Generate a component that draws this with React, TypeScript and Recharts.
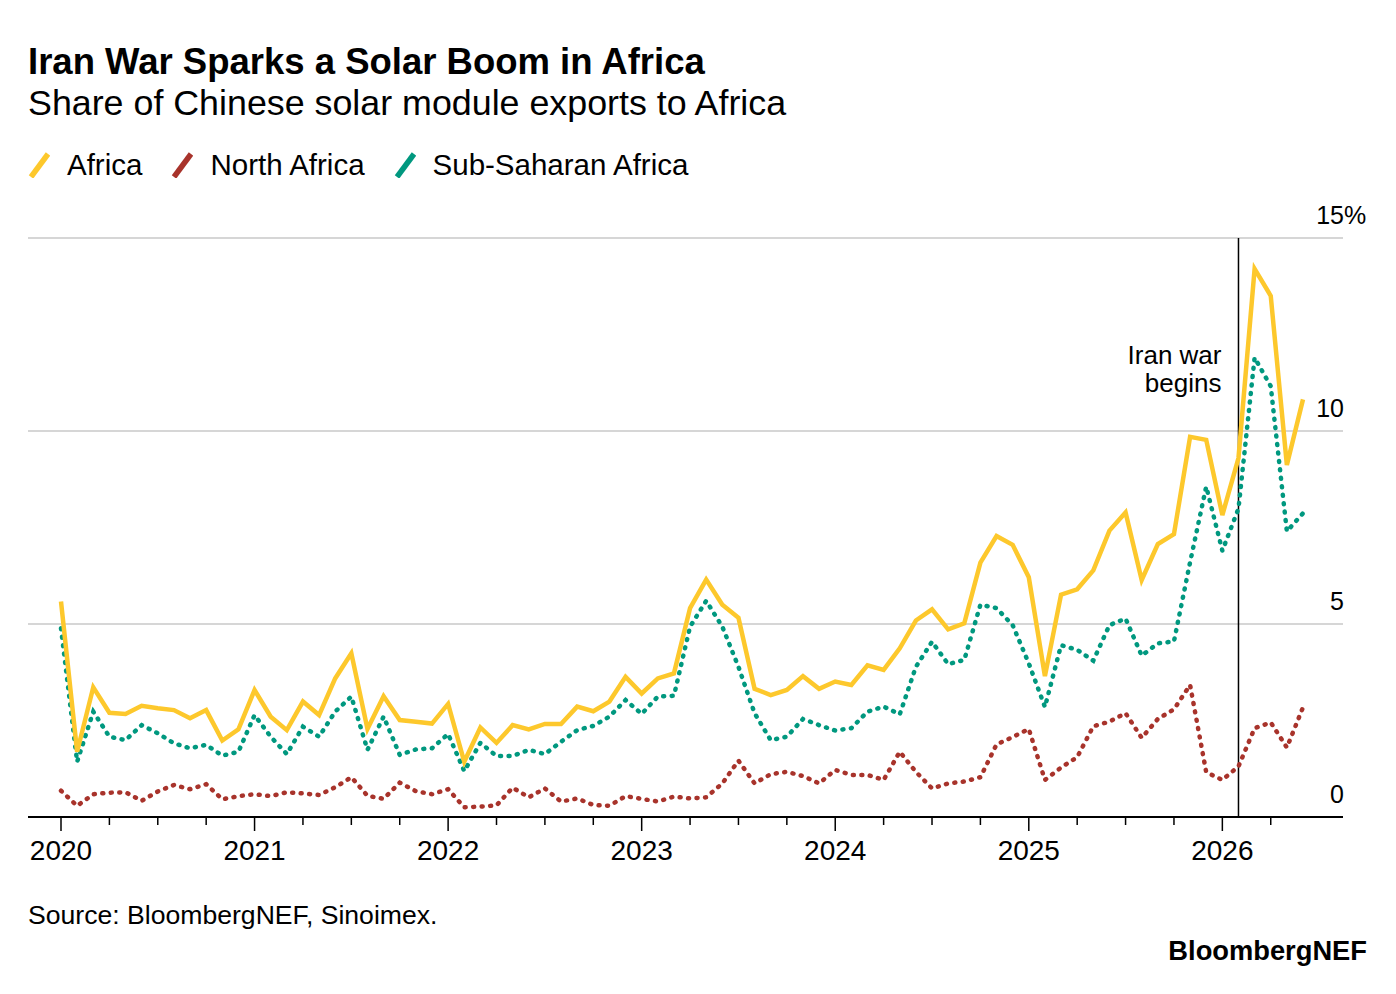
import { LineChart, Line, XAxis, YAxis, CartesianGrid, ReferenceLine } from 'recharts';

const years = ['2020', '2021', '2022', '2023', '2024', '2025', '2026'];
const monthCodes = ['01', '02', '03', '04', '05', '06', '07', '08', '09', '10', '11', '12'];
const months = years.flatMap((y) => monthCodes.map((m) => `${y}-${m}`)).slice(0, 78);

const africa = [
  5.58, 1.69, 3.36, 2.7, 2.67, 2.88, 2.82, 2.77, 2.56, 2.77, 1.98, 2.27,
  3.29, 2.6, 2.25, 2.99, 2.64, 3.59, 4.24, 2.28, 3.13, 2.51, 2.47, 2.42,
  2.93, 1.43, 2.32, 1.92, 2.38, 2.27, 2.41, 2.41, 2.86, 2.74, 2.99, 3.63,
  3.2, 3.59, 3.72, 5.41, 6.15, 5.5, 5.16, 3.32, 3.16, 3.29, 3.65, 3.32,
  3.51, 3.42, 3.93, 3.81, 4.37, 5.09, 5.38, 4.86, 5.02, 6.59, 7.28, 7.05,
  6.21, 3.65, 5.76, 5.9, 6.39, 7.42, 7.89, 6.14, 7.07, 7.33, 9.85, 9.77,
  7.82, 9.3, 14.2, 13.5, 9.12, 10.82,
];

const northAfrica = [
  0.68, 0.29, 0.59, 0.63, 0.64, 0.42, 0.66, 0.83, 0.72, 0.85, 0.46, 0.54,
  0.59, 0.54, 0.64, 0.61, 0.57, 0.77, 1.03, 0.55, 0.47, 0.89, 0.67, 0.59,
  0.72, 0.25, 0.27, 0.3, 0.76, 0.51, 0.74, 0.4, 0.48, 0.31, 0.29, 0.54,
  0.47, 0.4, 0.53, 0.48, 0.51, 0.87, 1.46, 0.87, 1.11, 1.17, 1.06, 0.87,
  1.22, 1.09, 1.09, 0.96, 1.69, 1.17, 0.74, 0.87, 0.92, 1.03, 1.88, 2.07,
  2.28, 0.96, 1.28, 1.55, 2.35, 2.47, 2.69, 2.05, 2.54, 2.79, 3.42, 1.16,
  0.96, 1.31, 2.3, 2.45, 1.8, 2.84,
];

const subSaharan = [
  4.89, 1.43, 2.73, 2.08, 1.99, 2.38, 2.17, 1.91, 1.78, 1.87, 1.59, 1.69,
  2.64, 2.08, 1.63, 2.34, 2.08, 2.73, 3.12, 1.74, 2.6, 1.61, 1.75, 1.78,
  2.15, 1.19, 1.92, 1.58, 1.58, 1.74, 1.63, 1.95, 2.25, 2.36, 2.6, 3.03,
  2.67, 3.12, 3.14, 4.93, 5.6, 4.93, 3.89, 2.69, 1.99, 2.08, 2.54, 2.38,
  2.24, 2.3, 2.73, 2.86, 2.66, 3.89, 4.54, 3.96, 4.07, 5.5, 5.41, 4.97,
  3.98, 2.85, 4.45, 4.33, 4.05, 4.97, 5.14, 4.18, 4.5, 4.55, 6.6, 8.56,
  6.9, 7.99, 11.9, 11.16, 7.4, 7.87,
];

const yTicks = [0, 5, 10, 15];
const warStart = '2026-02';

const series = [
  { key: 'north', name: 'North Africa', color: '#A8332B', dotted: true },
  { key: 'sub', name: 'Sub-Saharan Africa', color: '#00987F', dotted: true },
  { key: 'africa', name: 'Africa', color: '#FDC82C', dotted: false },
];
const legendOrder = ['africa', 'north', 'sub'];

const data = months.map((month, i) => ({
  month,
  africa: africa[i],
  north: northAfrica[i],
  sub: subSaharan[i],
}));

const FONT = '"Liberation Sans", Arial, sans-serif';

function MonthTick({ x, y, payload }: any) {
  const [yr, mo] = String(payload.value).split('-');
  if (!['01', '04', '07', '10'].includes(mo)) return <g />;
  const major = mo === '01';
  return (
    <g>
      <line x1={x} x2={x} y1={y} y2={y + (major ? 14 : 8)} stroke="#000" strokeWidth={1.5} />
      {major && (
        <text x={x} y={y + 43} textAnchor="middle" fontSize={28} fill="#000" fontFamily={FONT}>
          {yr}
        </text>
      )}
    </g>
  );
}

function ValueTick({ x, y, payload }: any) {
  const v = payload.value;
  const top = v === yTicks[yTicks.length - 1];
  return (
    <g fontFamily={FONT} fontSize={25} fill="#000">
      <text x={x + 1} y={y - 14} textAnchor="end">{v}</text>
      {top && <text x={x + 1} y={y - 14} textAnchor="start">%</text>}
    </g>
  );
}

function WarLabel({ viewBox }: any) {
  const x = viewBox.x - 17;
  const y = viewBox.y;
  return (
    <g fontFamily={FONT} fontSize={26} fill="#000">
      <text x={x} y={y + 126} textAnchor="end">Iran war</text>
      <text x={x} y={y + 154} textAnchor="end">begins</text>
    </g>
  );
}

export default function App() {
  return (
    <div style={{ position: 'absolute', left: 0, top: 0, width: 1396, height: 994, background: '#fff', fontFamily: FONT, color: '#000' }}>
      <div style={{ position: 'absolute', left: 28, top: 44, fontSize: 36.5, lineHeight: '36px', fontWeight: 700, whiteSpace: 'nowrap' }}>
        Iran War Sparks a Solar Boom in Africa
      </div>
      <div style={{ position: 'absolute', left: 28, top: 86, fontSize: 35.8, lineHeight: '35px', whiteSpace: 'nowrap' }}>
        Share of Chinese solar module exports to Africa
      </div>
      <div style={{ position: 'absolute', left: 28, top: 150, display: 'flex', alignItems: 'center', fontSize: 29.5, lineHeight: '29px', whiteSpace: 'nowrap' }}>
        {legendOrder.map((k) => {
          const s = series.find((d) => d.key === k)!;
          return (
            <div key={k} style={{ display: 'flex', alignItems: 'center', marginRight: 29 }}>
              <svg width={22} height={26} style={{ marginRight: 17 }}>
                <line x1={3} y1={25} x2={20} y2={2} stroke={s.color} strokeWidth={5.5} />
              </svg>
              <span>{s.name}</span>
            </div>
          );
        })}
      </div>

      <div style={{ position: 'absolute', left: 0, top: 0 }}>
        <LineChart width={1396} height={994} data={data} margin={{ top: 238, right: 28, bottom: 117, left: 28 }}>
          <CartesianGrid vertical={false} stroke="#c8c8c8" strokeWidth={1.5} />
          <XAxis
            dataKey="month"
            interval={0}
            height={60}
            padding={{ left: 33, right: 40 }}
            tickSize={0}
            tickMargin={0}
            tickLine={false}
            axisLine={{ stroke: '#000', strokeWidth: 2 }}
            tick={<MonthTick />}
          />
          <YAxis
            orientation="right"
            domain={[0, 15]}
            ticks={yTicks}
            width={25}
            tickSize={0}
            tickMargin={0}
            tickLine={false}
            axisLine={false}
            tick={<ValueTick />}
          />
          <ReferenceLine x={warStart} stroke="#000" strokeWidth={1.5} label={(p: any) => <WarLabel viewBox={p.viewBox} />} />
          {series.map((s) => (
            <Line
              key={s.key}
              dataKey={s.key}
              type="linear"
              stroke={s.color}
              strokeWidth={4.5}
              strokeDasharray={s.dotted ? '1 7.5' : undefined}
              strokeLinecap={s.dotted ? 'round' : 'butt'}
              strokeLinejoin="miter"
              dot={false}
              activeDot={false}
              isAnimationActive={false}
            />
          ))}
        </LineChart>
      </div>

      <div style={{ position: 'absolute', left: 28, top: 902, fontSize: 26.6, lineHeight: '26px', whiteSpace: 'nowrap' }}>
        Source: BloombergNEF, Sinoimex.
      </div>
      <div style={{ position: 'absolute', right: 29, top: 937, fontSize: 27.3, lineHeight: '27px', fontWeight: 700, whiteSpace: 'nowrap' }}>
        BloombergNEF
      </div>
    </div>
  );
}
